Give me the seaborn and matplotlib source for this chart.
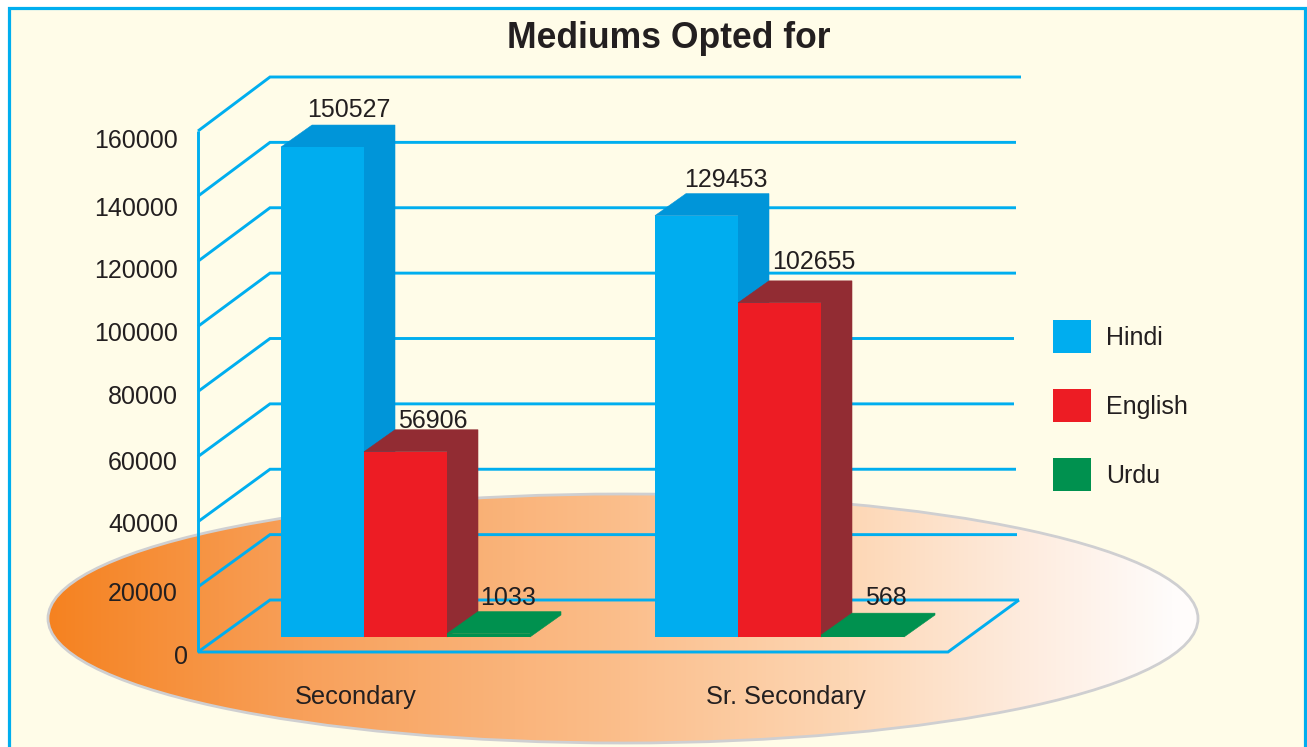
import numpy as np
import pandas as pd
import matplotlib
matplotlib.use("Agg")
import matplotlib.pyplot as plt
import matplotlib.transforms as mtrans
from matplotlib.colors import LinearSegmentedColormap
from matplotlib.patches import Ellipse, Polygon, Rectangle
import seaborn as sns

# ---- data ----
levels = ["Secondary", "Sr. Secondary"]
mediums = ["Hindi", "English", "Urdu"]
hindi = [150527, 129453]
english = [56906, 102655]
urdu = [1033, 568]
axis_ticks = [0, 20000, 40000, 60000, 80000, 100000, 120000, 140000, 160000]

# ---- styles ----
W, H = 1307, 747
INK = "#231F20"
LINE = "#00AEEF"
PAPER = "#FFFCE8"
front_cols = ["#00ADEF", "#ED1C24", "#00914F"]
side_cols = ["#0095D9", "#922C33", "#00914F"]

sns.set_theme(style="white")
plt.rcParams["font.family"] = ["Liberation Sans", "DejaVu Sans"]
plt.rcParams["text.color"] = INK

df = pd.DataFrame({
    "level": levels * 3,
    "medium": [m for m in mediums for _ in levels],
    "students": hindi + english + urdu,
})

fig = plt.figure(figsize=(W / 100, H / 100), dpi=100, facecolor="white")

# ---- backdrop in pixel space: frame, disc, chart box ----
deco = fig.add_axes([0, 0, 1, 1], zorder=0)
deco.set_xlim(0, W)
deco.set_ylim(H, 0)
deco.axis("off")
deco.add_patch(Rectangle((9, 8), 1296, 780, fc=PAPER, ec=LINE, lw=2.3))

disc = Ellipse((623, 618.5), 1150, 249, fc="none", ec="#CFCFD1", lw=2.0, zorder=2)
grad = LinearSegmentedColormap.from_list(
    "disc",
    [(0.0, "#F58220"), (0.224, "#F8A05A"), (0.508, "#FBBE8B"),
     (0.712, "#FDD7B5"), (0.863, "#FEEBDD"), (1.0, "#FFFCFB")],
)
deco.add_patch(disc)
img = deco.imshow(np.linspace(0, 1, 512)[None, :], cmap=grad, extent=(48, 1175, 743, 494),
                  aspect="auto", zorder=1)
img.set_clip_path(disc)
tail = Rectangle((1175, 494), 24, 249, fc="#FFFCFB", ec="none", zorder=1)
deco.add_patch(tail)
tail.set_clip_path(disc)
deco.set_xlim(0, W)
deco.set_ylim(H, 0)

FRONT_SCALE = 521 / 160000
BACK_SCALE = 523 / 160000
line_kw = dict(color=LINE, lw=2.1, solid_joinstyle="miter", solid_capstyle="butt", zorder=3)
grid_ends = [1019, 1017, 1016, 1014, 1014, 1016, 1016, 1016, 1021]
for v, xend in zip(axis_ticks, grid_ends):
    yf = 652 - v * FRONT_SCALE
    yb = 600 - v * BACK_SCALE
    deco.plot([198, 270, xend], [yf, yb, yb], **line_kw)
deco.plot([198, 198], [652 - axis_ticks[-1] * FRONT_SCALE, 652], **line_kw)
deco.plot([198, 948, 1019], [652, 652, 600], **line_kw)

# ---- axis labels ----
lab = fig.add_axes([198 / W, 1 - 680 / H, (1018 - 198) / W, (680 - 100) / H], zorder=1)
lab.patch.set_alpha(0)
LAB_SCALE = 0.003225
lab.set_xlim(198, 1018)
lab.set_ylim((656 - 680) / LAB_SCALE, (656 - 100) / LAB_SCALE)
lab.set_yticks(axis_ticks, [str(v) for v in axis_ticks])
lab.set_xticks([356, 786], levels)
lab.tick_params(axis="y", length=0, pad=14.4, labelsize=18, labelcolor=INK)
lab.tick_params(axis="x", length=0, pad=3.5, labelsize=18.3, labelcolor=INK)
sns.despine(ax=lab, left=True, bottom=True)
nudges = [(10, 1), (0, 0), (0, 5), (0, 1.5), (0, 3), (0, 2), (0, 0), (0, -1.5), (0, 1)]
for tick, (dx, dy) in zip(lab.yaxis.get_major_ticks(), nudges):
    tick.label1.set_transform(tick.label1.get_transform() + mtrans.Affine2D().translate(dx, dy))

# ---- bars ----
ax = fig.add_axes([0, 0, 1, 1], zorder=2)
ax.patch.set_alpha(0)
PX_PER_UNIT = 637 / 195699
PX_PER_CAT = 374
sns.barplot(data=df, x="level", y="students", hue="medium", order=levels, hue_order=mediums,
            palette=front_cols, width=249 / PX_PER_CAT, gap=0, saturation=1, errorbar=None,
            linewidth=0, ax=ax)
ax.set_xlim(-405.5 / PX_PER_CAT, (W - 405.5) / PX_PER_CAT)
ax.set_ylim((637 - H) / PX_PER_UNIT, 637 / PX_PER_UNIT)
ax.set_xlabel("")
ax.set_ylabel("")
ax.set_xticks([])
ax.set_yticks([])
sns.despine(ax=ax, left=True, bottom=True)

dx = 31 / PX_PER_CAT
dy = 22 / PX_PER_UNIT
label_offsets = [[(68, 37), (71, 36)], [(69, 31), (76, 41)], [(61, 36), (65, 37)]]
for s, cont in enumerate(ax.containers):
    for b, bar in enumerate(cont):
        x0, w, h = bar.get_x(), bar.get_width(), bar.get_height()
        bar.set_zorder(2 * s + 2)
        ax.add_patch(Polygon([(x0, h), (x0 + dx, h + dy), (x0 + w + dx, h + dy),
                              (x0 + w + dx, dy), (x0 + w, 0), (x0 + w, h)],
                             fc=side_cols[s], ec=side_cols[s], lw=0.4, zorder=2 * s + 1))
        ox, oy = label_offsets[s][b]
        ax.annotate(str(int(h)), xy=(x0, h), xytext=(ox, oy), textcoords="offset pixels",
                    ha="center", va="center", fontsize=18, color=INK, zorder=10)

# ---- legend ----
handles, labels = ax.get_legend_handles_labels()
ax.legend(handles, labels, loc="upper left", bbox_to_anchor=(1053 / W, 1 - 320 / H),
          bbox_transform=fig.transFigure, frameon=False, fontsize=18, borderpad=0,
          borderaxespad=0, handlelength=1.52, handleheight=1.655, handletextpad=0.6,
          labelspacing=1.44, labelcolor=INK)

fig.suptitle("Mediums Opted for", x=669 / W, y=1 - 38 / H, va="center", ha="center",
             fontsize=25.6, fontweight="bold", color=INK)

fig.savefig("out.png", dpi=100, facecolor="white")
